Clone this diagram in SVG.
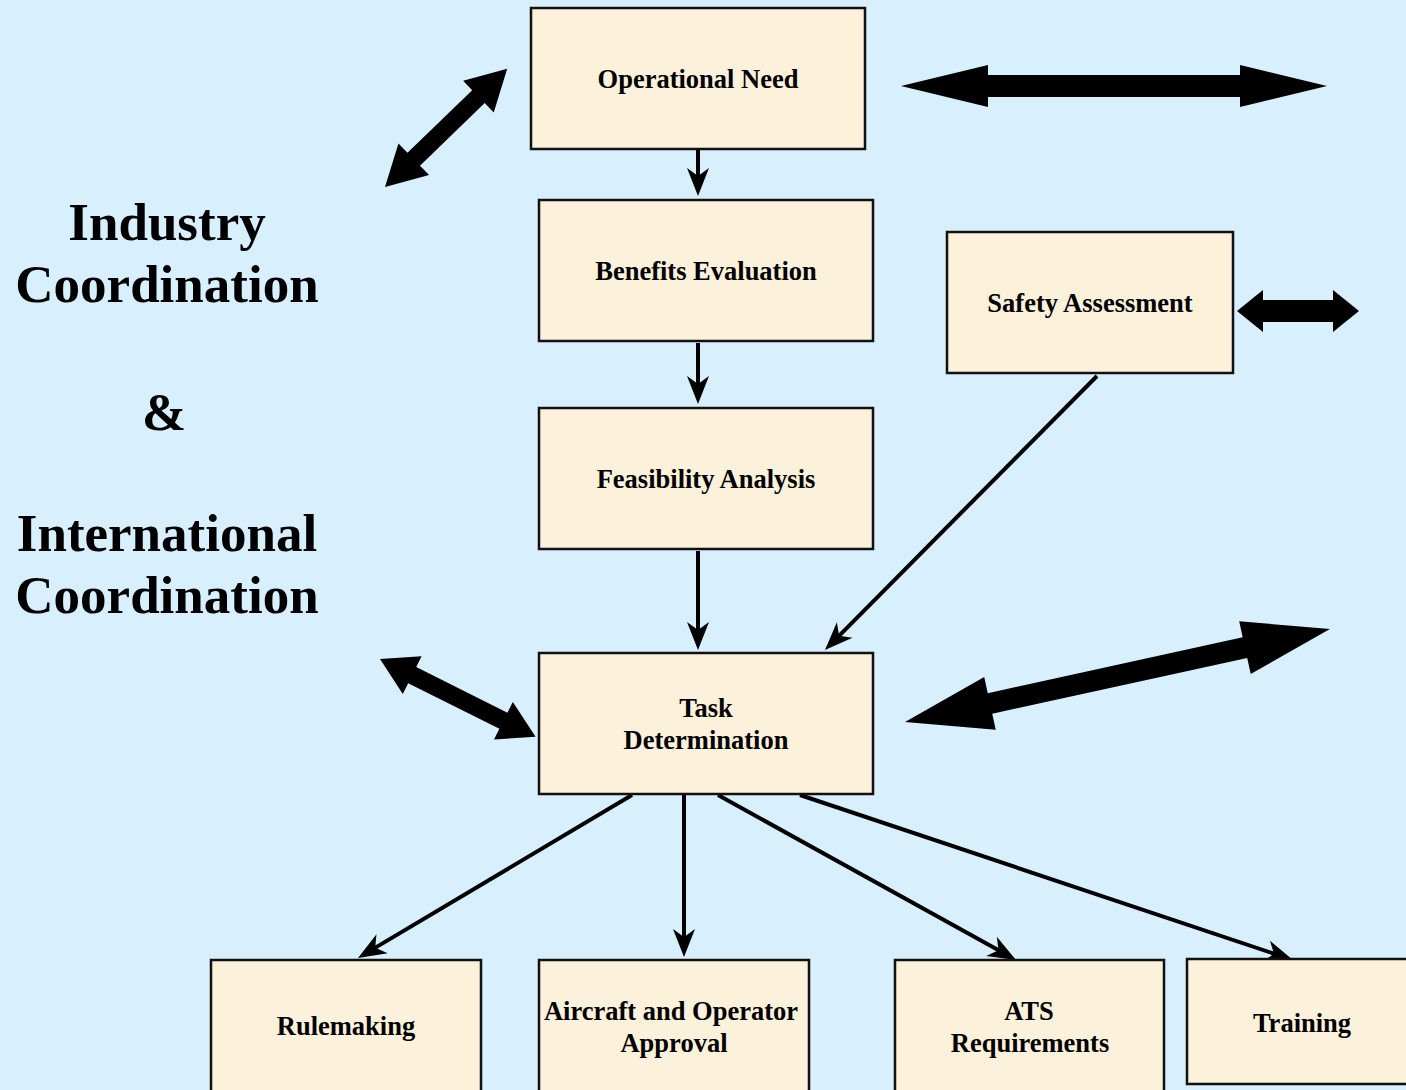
<svg xmlns="http://www.w3.org/2000/svg" width="1406" height="1090" viewBox="0 0 1406 1090">
<defs>
<style>
.box{fill:#FCF1DA;stroke:#111;stroke-width:2.5}
.bt{font-family:"Liberation Serif","Times New Roman",serif;font-weight:bold;font-size:26.5px;fill:#000;text-anchor:middle}
.big{font-family:"Liberation Serif","Times New Roman",serif;font-weight:bold;font-size:53px;fill:#000;text-anchor:middle}
.conn{stroke:#000;stroke-width:4;fill:none;marker-end:url(#ah)}
.blk{fill:#000}
</style>
<marker id="ah" markerUnits="userSpaceOnUse" viewBox="-30 -12 32 24" refX="-8" refY="0" markerWidth="32" markerHeight="24" orient="auto">
<path d="M0,0 L-28,-11 L-20,0 L-28,11 Z" fill="#000"/>
</marker>
</defs>
<rect width="1406" height="1090" fill="#D8EFFD"/>

<g id="label-left">
<text class="big" x="167" y="240">Industry</text>
<text class="big" x="167" y="302">Coordination</text>
<text class="big" x="164" y="430">&amp;</text>
<text class="big" x="167" y="551">International</text>
<text class="big" x="167" y="613">Coordination</text>
</g>

<g id="connectors">
<line class="conn" x1="698" y1="150" x2="698" y2="188"/>
<line class="conn" x1="698" y1="343" x2="698" y2="396"/>
<line class="conn" x1="698" y1="551" x2="698" y2="642"/>
<line class="conn" x1="1097" y1="376" x2="830.6" y2="644.3"/>
<line class="conn" x1="632" y1="795" x2="364.9" y2="953.9"/>
<line class="conn" x1="684" y1="795" x2="684" y2="949"/>
<line class="conn" x1="718" y1="795" x2="1009" y2="956.1"/>
<line class="conn" x1="800" y1="795" x2="1285.4" y2="957.5"/>
<g id="block-arrows">
<polygon class="blk" transform="translate(385,187) rotate(-44.04)" points="0,0 40,-22 40,-9 130,-9 130,-22 170,0 130,22 130,9 40,9 40,22"/>
<polygon class="blk" transform="translate(901,86)" points="0,0 87,-21 87,-11 339,-11 339,-21 426,0 339,21 339,11 87,11 87,21"/>
<polygon class="blk" transform="translate(1237,311)" points="0,0 26,-21 26,-11 96,-11 96,-21 122,0 96,21 96,11 26,11 26,21"/>
<polygon class="blk" transform="translate(380,659) rotate(26.57)" points="0,0 36,-21 36,-9 138,-9 138,-21 174,0 138,21 138,9 36,9 36,21"/>
<polygon class="blk" transform="translate(905,722) rotate(-12.34)" points="0,0 87,-27 87,-10.5 348,-10.5 348,-27 435,0 348,27 348,10.5 87,10.5 87,27"/>
</g>
</g>

<g id="operational-need">
<rect class="box" x="531" y="8" width="334" height="141"/>
<text class="bt" x="698" y="88">Operational Need</text>
</g>
<g id="benefits-evaluation">
<rect class="box" x="539" y="200" width="334" height="141"/>
<text class="bt" x="706" y="280">Benefits Evaluation</text>
</g>
<g id="feasibility-analysis">
<rect class="box" x="539" y="408" width="334" height="141"/>
<text class="bt" x="706" y="488">Feasibility Analysis</text>
</g>
<g id="safety-assessment">
<rect class="box" x="947" y="232" width="286" height="141"/>
<text class="bt" x="1090" y="312">Safety Assessment</text>
</g>
<g id="task-determination">
<rect class="box" x="539" y="653" width="334" height="141"/>
<text class="bt" x="706" y="717">Task</text>
<text class="bt" x="706" y="749">Determination</text>
</g>
<g id="rulemaking">
<rect class="box" x="211" y="960" width="270" height="140"/>
<text class="bt" x="346" y="1035">Rulemaking</text>
</g>
<g id="aircraft-operator-approval">
<rect class="box" x="539" y="960" width="270" height="140"/>
<text class="bt" x="671" y="1020">Aircraft and Operator</text>
<text class="bt" x="674" y="1052">Approval</text>
</g>
<g id="ats-requirements">
<rect class="box" x="895" y="960" width="269" height="140"/>
<text class="bt" x="1029" y="1020">ATS</text>
<text class="bt" x="1030" y="1052">Requirements</text>
</g>
<g id="training">
<rect class="box" x="1187" y="959" width="230" height="125"/>
<text class="bt" x="1302" y="1032">Training</text>
</g>
</svg>
